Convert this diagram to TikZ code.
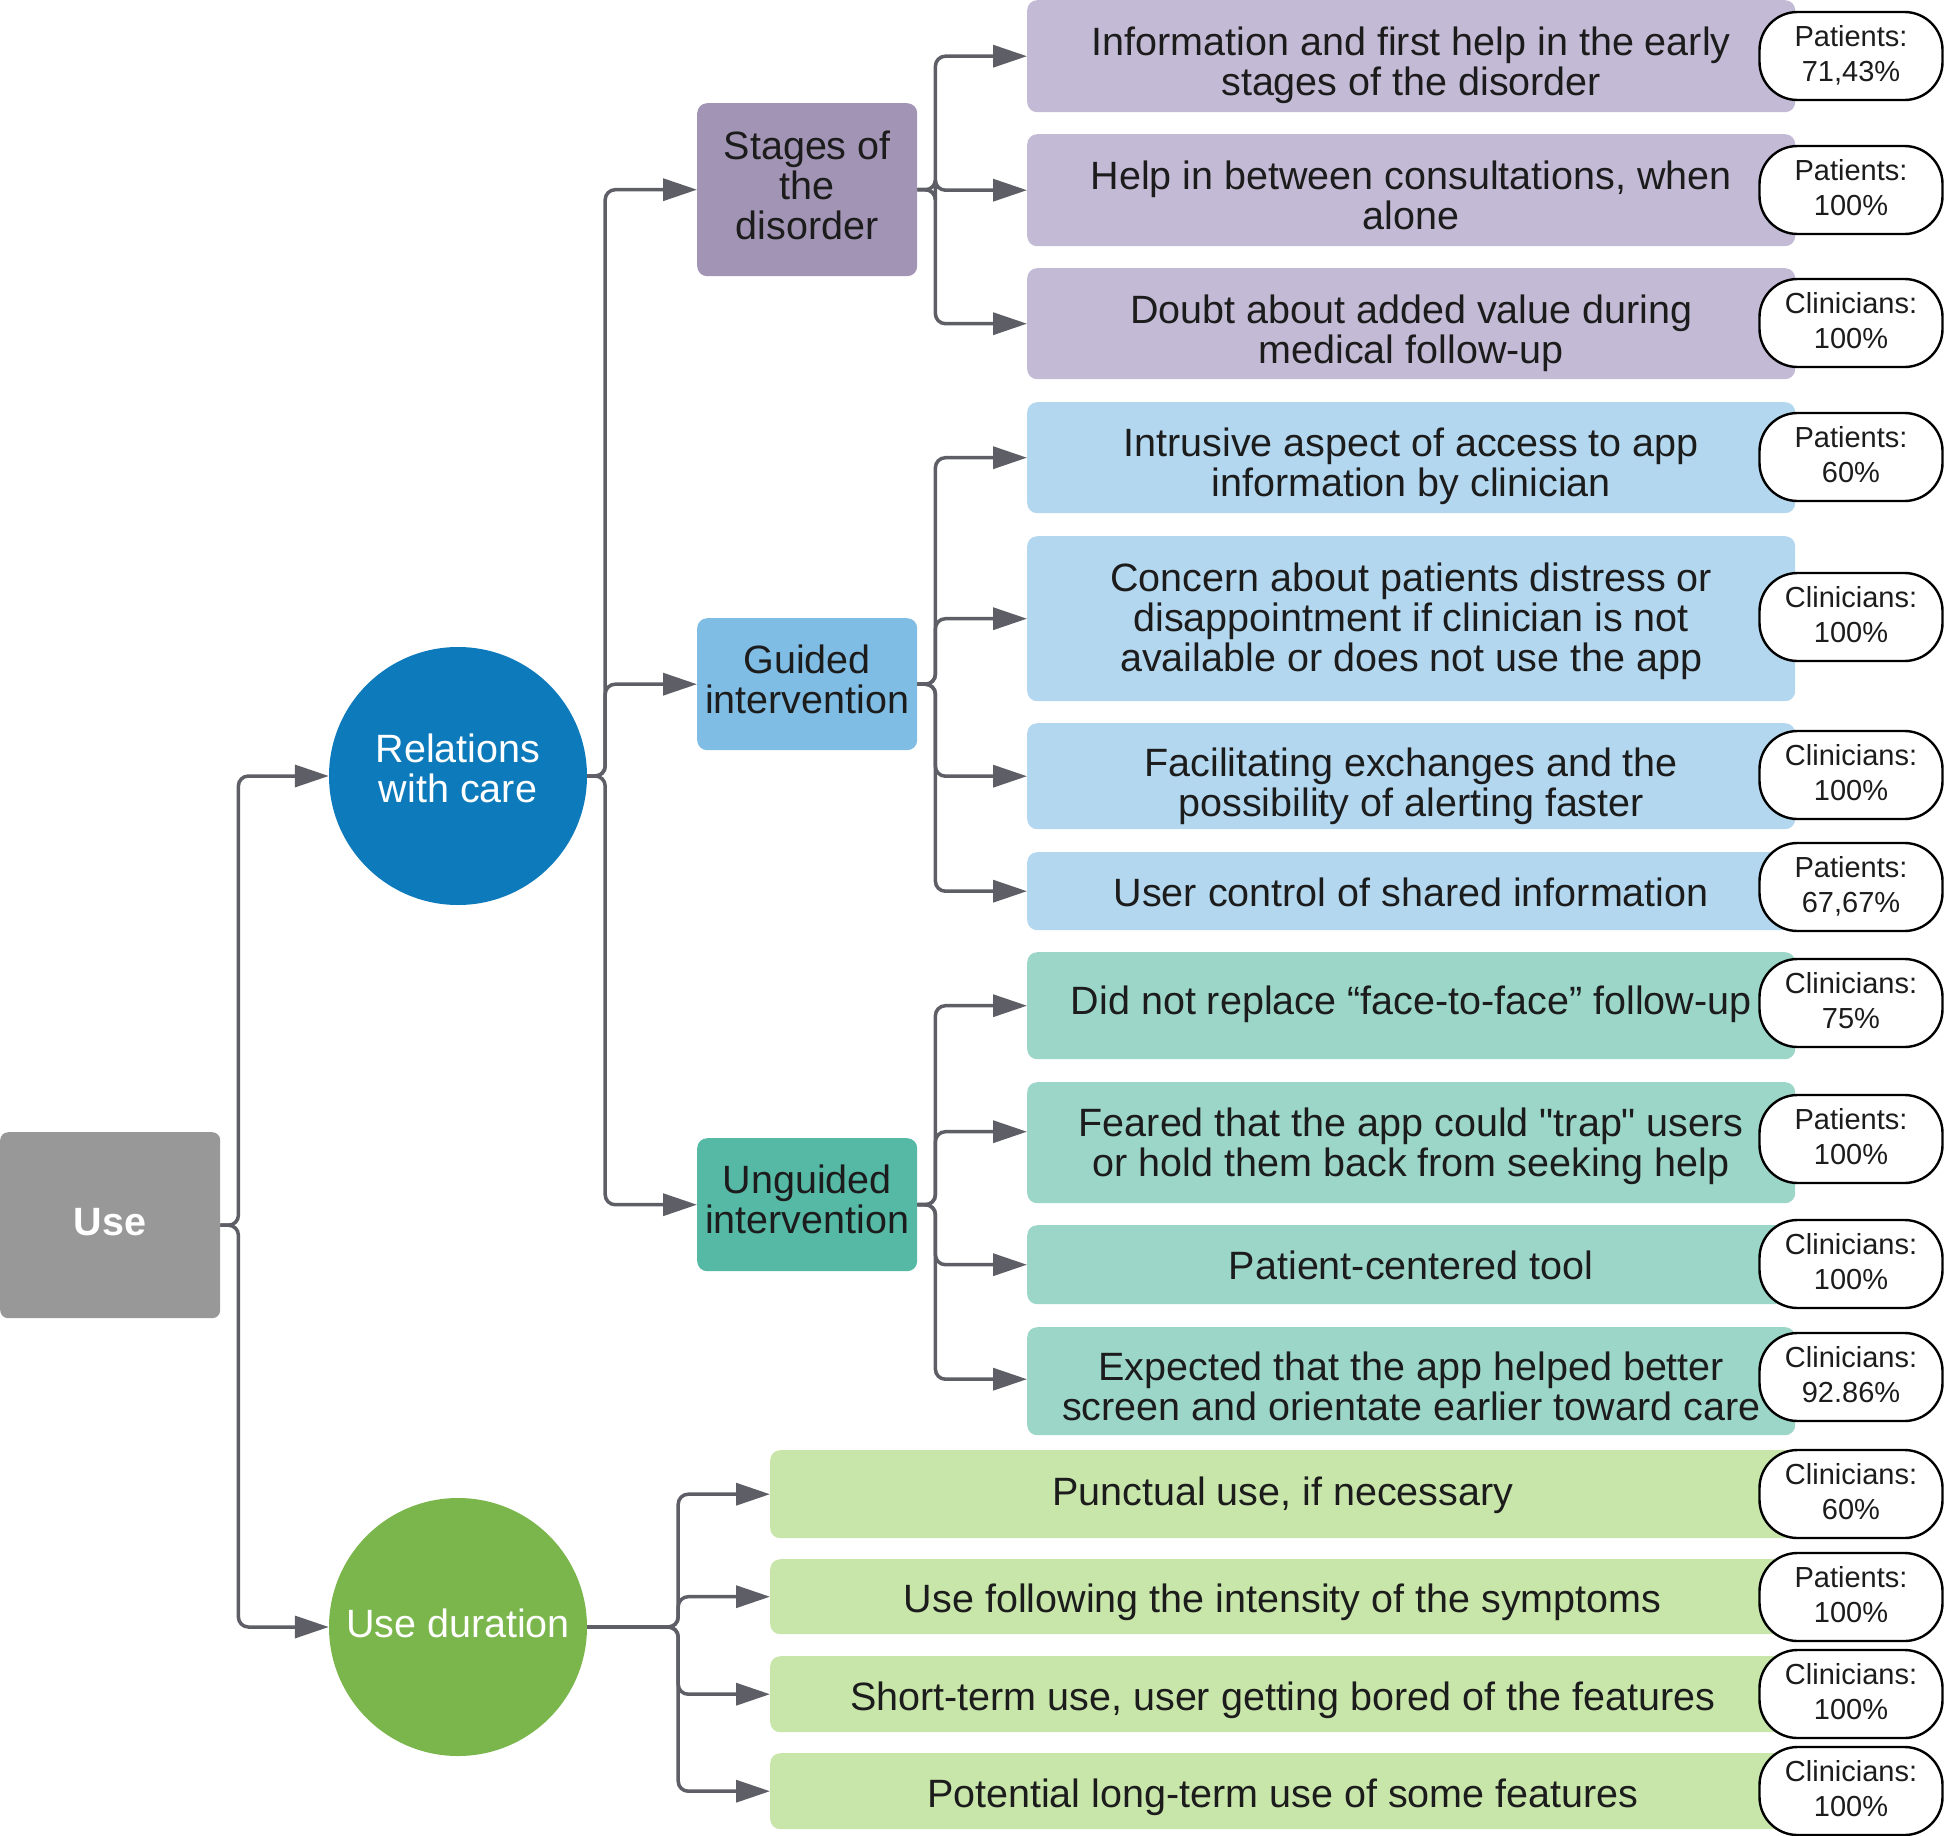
\documentclass[tikz,border=0pt]{standalone}
\usepackage{fontspec}
\setmainfont{Liberation Sans}[Ligatures=TeXOff]
\usetikzlibrary{arrows.meta}
\definecolor{linec}{HTML}{5E5E66}
\definecolor{txtc}{HTML}{1C1C1C}
\definecolor{usec}{HTML}{989898}
\definecolor{relc}{HTML}{0D7ABB}
\definecolor{durc}{HTML}{7AB64B}
\definecolor{stagc}{HTML}{A294B4}
\definecolor{stagl}{HTML}{C3BBD5}
\definecolor{guidc}{HTML}{80BDE4}
\definecolor{guidl}{HTML}{B3D7EF}
\definecolor{ungc}{HTML}{55B9A6}
\definecolor{ungl}{HTML}{9BD6C8}
\definecolor{durl}{HTML}{C8E6AA}
\newcommand\bigf{\fontsize{39.5pt}{40pt}\selectfont}
\newcommand\smallf{\fontsize{29pt}{35pt}\selectfont}
\newcommand\pdep{\rule[-5pt]{0pt}{0pt}}
\begin{document}
\begin{tikzpicture}[x=1pt,y=-1pt,
  box/.style={rectangle, rounded corners=10pt, inner sep=0pt, anchor=north west},
  leafp/.style={box, fill=stagl, minimum width=768pt},
  leafb/.style={box, fill=guidl, minimum width=768pt},
  leaft/.style={box, fill=ungl, minimum width=768pt},
  leafg/.style={box, fill=durl, minimum width=1025pt},
  midbox/.style={box, minimum width=220pt},
  circ/.style={circle, minimum size=258pt, inner sep=0pt},
  txt/.style={inner sep=0pt, align=center, font=\bigf, text=txtc},
  wtxt/.style={txt, text=white},
  pill/.style={rectangle, rounded corners=38pt, draw=black, line width=2.4pt, fill=white, minimum width=183pt, minimum height=88pt, inner sep=0pt, align=center, font=\smallf, text=txtc},
  conn/.style={draw=linec, line width=3.5pt, rounded corners=10pt, -{Triangle[length=34pt,width=22pt]}}
]
\useasboundingbox (0,0) rectangle (1944,1836);

% root
\node[box, fill=usec, minimum width=220pt, minimum height=186pt, rounded corners=8pt] (use) at (0,1132) {};
\node[wtxt, font=\bigf\bfseries] (uset) at ([yshift=3.5pt]use.center) {Use};

% circles
\node[circ, fill=relc] (rel) at (458,776) {};
\node[wtxt] (relt) at ([yshift=8pt]rel.center) {Relations\\with care};
\node[circ, fill=durc] (dur) at (458,1627) {};
\node[wtxt] (durt) at ([yshift=4pt]dur.center) {Use duration};

% middle boxes
\node[midbox, fill=stagc, minimum height=173pt] (stag) at (697,103) {};
\node[txt] (stagt) at ([yshift=4pt]stag.center) {Stages of\\the\\disorder};
\node[midbox, fill=guidc, minimum height=132pt] (guid) at (697,618) {};
\node[txt] (guidt) at ([yshift=5pt]guid.center) {Guided\\intervention};
\node[midbox, fill=ungc, minimum height=133pt] (ung) at (697,1138) {};
\node[txt] (ungt) at ([yshift=5pt]ung.center) {Unguided\\intervention};

% leaves
\node[leafp, minimum height=112pt] (l1) at (1027,0) {};
\node[txt] (l1t) at ([yshift=-9pt]l1.center) {Information and first help in the early\\stages of the disorder};
\node[leafp, minimum height=112pt] (l2) at (1027,134) {};
\node[txt] (l2t) at ([yshift=-5pt]l2.center) {Help in between consultations, when\\alone};
\node[leafp, minimum height=111pt] (l3) at (1027,268) {};
\node[txt] (l3t) at ([yshift=-10pt]l3.center) {Doubt about added value during\\medical follow-up};
\node[leafb, minimum height=111pt] (l4) at (1027,402) {};
\node[txt] (l4t) at ([yshift=-9pt]l4.center) {Intrusive aspect of access to app\\information by clinician};
\node[leafb, minimum height=165pt] (l5) at (1027,536) {};
\node[txt] (l5t) at ([yshift=-2.5pt]l5.center) {Concern about patients distress or\\disappointment if clinician is not\\available or does not use the app};
\node[leafb, minimum height=106pt] (l6) at (1027,723) {};
\node[txt] (l6t) at ([yshift=-10pt]l6.center) {Facilitating exchanges and the\\possibility of alerting faster};
\node[leafb, minimum height=78pt] (l7) at (1027,852) {};
\node[txt] (l7t) at ([yshift=-1pt]l7.center) {User control of shared information};
\node[leaft, minimum height=107pt] (l8) at (1027,952) {};
\node[txt] (l8t) at ([yshift=1pt]l8.center) {Did not replace “face-to-face” follow-up};
\node[leaft, minimum height=121pt] (l9) at (1027,1082) {};
\node[txt] (l9t) at ([yshift=-4pt]l9.center) {Feared that the app could "trap" users\\or hold them back from seeking help};
\node[leaft, minimum height=79pt] (l10) at (1027,1225) {};
\node[txt] (l10t) at ([yshift=-1pt]l10.center) {Patient-centered tool};
\node[leaft, minimum height=108pt] (l11) at (1027,1327) {};
\node[txt] (l11t) at ([yshift=-5pt]l11.center) {Expected that the app helped better\\screen and orientate earlier toward care};
\node[leafg, minimum height=88pt] (l12) at (770,1450) {};
\node[txt] (l12t) at ([yshift=-1pt]l12.center) {Punctual use, if necessary};
\node[leafg, minimum height=75pt] (l13) at (770,1559) {};
\node[txt] (l13t) at ([yshift=-6pt]l13.center) {Use following the intensity of the symptoms};
\node[leafg, minimum height=76pt] (l14) at (770,1656) {};
\node[txt] (l14t) at ([yshift=-6pt]l14.center) {Short-term use, user getting bored of the features};
\node[leafg, minimum height=76pt] (l15) at (770,1753) {};
\node[txt] (l15t) at ([yshift=-6pt]l15.center) {Potential long-term use of some features};

% pills
\node[pill] (p1) at (1851,56) {Patients:\\71,43\%\pdep};
\node[pill] (p2) at (1851,190) {Patients:\\100\%\pdep};
\node[pill] (p3) at (1851,323) {Clinicians:\\100\%\pdep};
\node[pill] (p4) at (1851,457) {Patients:\\60\%\pdep};
\node[pill] (p5) at (1851,617) {Clinicians:\\100\%\pdep};
\node[pill] (p6) at (1851,775) {Clinicians:\\100\%\pdep};
\node[pill] (p7) at (1851,887) {Patients:\\67,67\%\pdep};
\node[pill] (p8) at (1851,1003) {Clinicians:\\75\%\pdep};
\node[pill] (p9) at (1851,1139) {Patients:\\100\%\pdep};
\node[pill] (p10) at (1851,1264) {Clinicians:\\100\%\pdep};
\node[pill] (p11) at (1851,1377) {Clinicians:\\92.86\%\pdep};
\node[pill] (p12) at (1851,1494) {Clinicians:\\60\%\pdep};
\node[pill] (p13) at (1851,1597) {Patients:\\100\%\pdep};
\node[pill] (p14) at (1851,1694) {Clinicians:\\100\%\pdep};
\node[pill] (p15) at (1851,1791) {Clinicians:\\100\%\pdep};

% connectors
\draw[conn] (use.east) -- ++(18,0) |- (rel.west);
\draw[conn] (use.east) -- ++(18,0) |- (dur.west);

\draw[conn] (rel.east) -- ++(18,0) |- (stag.west);
\draw[conn] (rel.east) -- ++(18,0) |- (guid.west);
\draw[conn] (rel.east) -- ++(18,0) |- (ung.west);

\draw[conn] (stag.east) -- ++(18,0) |- (l1.west);
\draw[conn] (stag.east) -- ++(18,0) |- (l2.west);
\draw[conn] (stag.east) -- ++(18,0) |- (l3.west);

\draw[conn] (guid.east) -- ++(18,0) |- (l4.west);
\draw[conn] (guid.east) -- ++(18,0) |- (l5.west);
\draw[conn] (guid.east) -- ++(18,0) |- (l6.west);
\draw[conn] (guid.east) -- ++(18,0) |- (l7.west);

\draw[conn] (ung.east) -- ++(18,0) |- (l8.west);
\draw[conn] (ung.east) -- ++(18,0) |- ([yshift=11pt]l9.west);
\draw[conn] (ung.east) -- ++(18,0) |- (l10.west);
\draw[conn] (ung.east) -- ++(18,0) |- ([yshift=2pt]l11.west);

\draw[conn] (dur.east) -- ++(91,0) |- (l12.west);
\draw[conn] (dur.east) -- ++(91,0) |- (l13.west);
\draw[conn] (dur.east) -- ++(91,0) |- (l14.west);
\draw[conn] (dur.east) -- ++(91,0) |- (l15.west);
\end{tikzpicture}
\end{document}
